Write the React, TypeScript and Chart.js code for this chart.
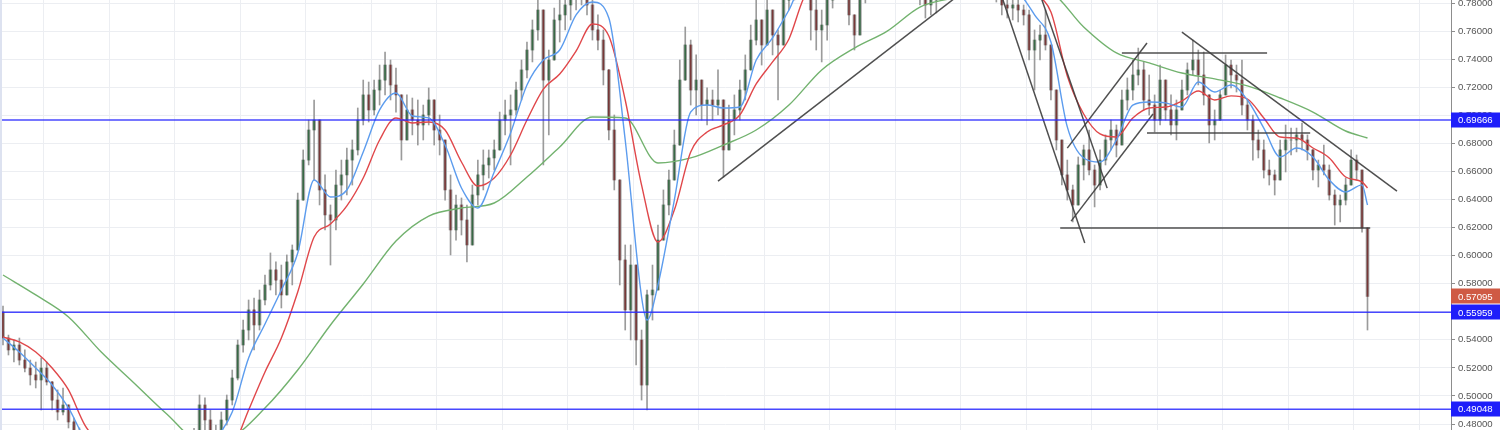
import React, { useEffect, useRef } from "react";
import { Chart, registerables } from "chart.js";

Chart.register(...registerables);

// ---------- data (bar index = trading period, price) ----------
const firstOpen = 0.5598;

const highs = [
  0.5641, 0.5434, 0.5399, 0.5413, 0.5328, 0.5256, 0.5242, 0.5271, 0.5242, 0.5078,
  0.5043, 0.5057, 0.4936, 0.4843, 0.4772, 0.4650, 0.4600, 0.4550, 0.4480, 0.4420,
  0.4390, 0.4350, 0.4320, 0.4330, 0.4350, 0.4370, 0.4400, 0.4460, 0.4500, 0.4550,
  0.4600, 0.4640, 0.4680, 0.4710, 0.4740, 0.4770, 0.5007, 0.4986, 0.4900, 0.4793,
  0.4886, 0.5007, 0.5185, 0.5399, 0.5541, 0.5684, 0.5698, 0.5755, 0.5862, 0.6019,
  0.5955, 0.5933, 0.6005, 0.6076, 0.6446, 0.6753, 0.6966, 0.7109, 0.6860, 0.6575,
  0.6361, 0.6610, 0.6681, 0.6767, 0.6824, 0.7052, 0.7251, 0.7237, 0.7251, 0.7358,
  0.7451, 0.7394, 0.7337, 0.7145, 0.7145, 0.7123, 0.7109, 0.7073, 0.7195, 0.7109,
  0.7002, 0.6824, 0.6575, 0.6432, 0.6411, 0.6361, 0.6503, 0.6681, 0.6753, 0.6753,
  0.6824, 0.7023, 0.7109, 0.7145, 0.7237, 0.7394, 0.7522, 0.7679, 0.7836, 0.7679,
  0.7465, 0.7764, 0.7821, 0.7857, 0.7928, 0.7964, 0.7999, 0.7892, 0.7857, 0.7715,
  0.7608, 0.7216, 0.7002, 0.6432, 0.6076, 0.6076, 0.5755, 0.5470, 0.5755, 0.5933,
  0.6218, 0.6468, 0.6610, 0.6895, 0.7394, 0.7629, 0.7536, 0.7430, 0.7216, 0.7195,
  0.7180, 0.7323, 0.7109, 0.7073, 0.7145, 0.7251, 0.7430, 0.7643, 0.7821, 0.7643,
  0.7857, 0.7715, 0.7608, 0.7892, 0.7999, 0.8071, 0.8106, 0.8071, 0.7999, 0.7857,
  0.7750, 0.7857, 0.8035, 0.8106, 0.8142, 0.8071, 0.7715, 0.7892, 0.7964, 0.8071,
  0.8142, 0.8178, 0.8213, 0.8249, 0.8178, 0.8142, 0.8106, 0.8071, 0.7999, 0.7928,
  0.7892, 0.7928, 0.7999, 0.8071, 0.8142, 0.8178, 0.8213, 0.8178, 0.8142, 0.8106,
  0.8071, 0.8035, 0.7999, 0.7892, 0.7857, 0.7878, 0.7857, 0.7786, 0.7750, 0.7608,
  0.7643, 0.7750, 0.7501, 0.7180, 0.6824, 0.6681, 0.6503, 0.6703, 0.6788, 0.6895,
  0.6646, 0.6753, 0.6860, 0.6966, 0.6931, 0.7180, 0.7266, 0.7394, 0.7479, 0.7380,
  0.7287, 0.7145, 0.7358, 0.7251, 0.7145, 0.7109, 0.7251, 0.7373, 0.7536, 0.7465,
  0.7451, 0.7145, 0.7038, 0.7180, 0.7430, 0.7394, 0.7358, 0.7394, 0.7109, 0.7002,
  0.6895, 0.6824, 0.6681, 0.6610, 0.6824, 0.6931, 0.6909, 0.6909, 0.6945, 0.6860,
  0.6753, 0.6681, 0.6788, 0.6646, 0.6468, 0.6432, 0.6553, 0.6753, 0.6717, 0.6575,
  0.6197,
];

const lows = [
  0.5363, 0.5292, 0.5242, 0.5221, 0.5171, 0.5078, 0.5057, 0.4900, 0.5078, 0.4900,
  0.4829, 0.4865, 0.4772, 0.4686, 0.4615, 0.4540, 0.4490, 0.4430, 0.4370, 0.4320,
  0.4290, 0.4250, 0.4210, 0.4230, 0.4250, 0.4270, 0.4300, 0.4350, 0.4390, 0.4440,
  0.4500, 0.4530, 0.4570, 0.4600, 0.4640, 0.4680, 0.4743, 0.4758, 0.4686, 0.4615,
  0.4651, 0.4793, 0.4936, 0.5114, 0.5313, 0.5399, 0.5328, 0.5470, 0.5648, 0.5755,
  0.5720, 0.5627, 0.5755, 0.5791, 0.6111, 0.6396, 0.6646, 0.6539, 0.6361, 0.6183,
  0.5933, 0.6183, 0.6396, 0.6432, 0.6503, 0.6717, 0.6931, 0.6952, 0.7002, 0.7073,
  0.7145, 0.7109, 0.7023, 0.6681, 0.6824, 0.6860, 0.6788, 0.6824, 0.6931, 0.6788,
  0.6717, 0.6396, 0.6005, 0.6111, 0.6147, 0.5955, 0.6111, 0.6361, 0.6468, 0.6553,
  0.6610, 0.6788, 0.6860, 0.6646, 0.7002, 0.7109, 0.7266, 0.7380, 0.7536, 0.6646,
  0.6860, 0.7430, 0.7522, 0.7608, 0.7679, 0.7750, 0.7786, 0.7715, 0.7536, 0.7465,
  0.7216, 0.6824, 0.6468, 0.5791, 0.5470, 0.5399, 0.5221, 0.4971, 0.4900, 0.5541,
  0.5755, 0.6111, 0.6290, 0.6539, 0.6824, 0.7251, 0.7073, 0.7002, 0.6966, 0.6931,
  0.6966, 0.7002, 0.6560, 0.6753, 0.6860, 0.6966, 0.7109, 0.7358, 0.7501, 0.7358,
  0.7536, 0.7430, 0.7109, 0.7536, 0.7750, 0.7821, 0.7857, 0.7857, 0.7536, 0.7465,
  0.7380, 0.7536, 0.7764, 0.7892, 0.7928, 0.7643, 0.7465, 0.7643, 0.7800, 0.7892,
  0.7928, 0.7964, 0.7999, 0.8035, 0.7964, 0.7928, 0.7892, 0.7857, 0.7786, 0.7693,
  0.7715, 0.7729, 0.7821, 0.7892, 0.7928, 0.7964, 0.7999, 0.7964, 0.7928, 0.7892,
  0.7857, 0.7836, 0.7807, 0.7715, 0.7693, 0.7679, 0.7665, 0.7643, 0.7394, 0.7180,
  0.7394, 0.7465, 0.7109, 0.6753, 0.6503, 0.6396, 0.6240, 0.6361, 0.6539, 0.6575,
  0.6347, 0.6468, 0.6646, 0.6753, 0.6703, 0.6788, 0.7038, 0.7109, 0.7216, 0.7038,
  0.7002, 0.6881, 0.6931, 0.6966, 0.6860, 0.6824, 0.7038, 0.7145, 0.7287, 0.7216,
  0.7073, 0.6803, 0.6824, 0.6966, 0.7216, 0.7195, 0.7166, 0.7002, 0.6895, 0.6681,
  0.6696, 0.6553, 0.6503, 0.6432, 0.6575, 0.6596, 0.6717, 0.6739, 0.6753, 0.6681,
  0.6539, 0.6489, 0.6575, 0.6396, 0.6218, 0.6240, 0.6361, 0.6503, 0.6539, 0.6168,
  0.5470,
];

const closes = [
  0.5413, 0.5328, 0.5363, 0.5256, 0.5199, 0.5150, 0.5114, 0.5199, 0.5100, 0.4971,
  0.4886, 0.4936, 0.4815, 0.4743, 0.4651, 0.4579, 0.4529, 0.4472, 0.4415, 0.4365,
  0.4330, 0.4294, 0.4258, 0.4273, 0.4294, 0.4316, 0.4344, 0.4401, 0.4437, 0.4487,
  0.4544, 0.4579, 0.4615, 0.4651, 0.4686, 0.4722, 0.4936, 0.4829, 0.4722, 0.4651,
  0.4829, 0.4971, 0.5128, 0.5363, 0.5470, 0.5613, 0.5506, 0.5684, 0.5791, 0.5898,
  0.5826, 0.5720, 0.5955, 0.6040, 0.6396, 0.6681, 0.6895, 0.6966, 0.6468, 0.6290,
  0.6254, 0.6503, 0.6575, 0.6681, 0.6753, 0.6966, 0.7145, 0.7038, 0.7180, 0.7251,
  0.7358, 0.7216, 0.7145, 0.6824, 0.7038, 0.6966, 0.6931, 0.7002, 0.7109, 0.6895,
  0.6824, 0.6468, 0.6183, 0.6361, 0.6254, 0.6076, 0.6432, 0.6575, 0.6646, 0.6696,
  0.6753, 0.6966, 0.7002, 0.7038, 0.7180, 0.7323, 0.7465, 0.7608, 0.7750, 0.7251,
  0.7394, 0.7679, 0.7715, 0.7786, 0.7857, 0.7892, 0.7878, 0.7786, 0.7608, 0.7536,
  0.7323, 0.6895, 0.6539, 0.5969, 0.5613, 0.5933, 0.5399, 0.5078, 0.5720, 0.5755,
  0.6111, 0.6361, 0.6539, 0.6788, 0.7251, 0.7501, 0.7180, 0.7251, 0.7073, 0.7109,
  0.7073, 0.7109, 0.6753, 0.6966, 0.7038, 0.7180, 0.7323, 0.7536, 0.7679, 0.7501,
  0.7750, 0.7572, 0.7501, 0.7821, 0.7928, 0.7964, 0.7999, 0.7964, 0.7750, 0.7608,
  0.7643, 0.7821, 0.7928, 0.8035, 0.8071, 0.7715, 0.7572, 0.7857, 0.7892, 0.7999,
  0.8035, 0.8106, 0.8142, 0.8106, 0.8035, 0.7999, 0.7964, 0.7928, 0.7857, 0.7786,
  0.7821, 0.7857, 0.7928, 0.7999, 0.8071, 0.8106, 0.8142, 0.8071, 0.8035, 0.7999,
  0.7964, 0.7928, 0.7892, 0.7786, 0.7764, 0.7786, 0.7750, 0.7715, 0.7465, 0.7536,
  0.7572, 0.7501, 0.7180, 0.6824, 0.6575, 0.6468, 0.6361, 0.6646, 0.6753, 0.6610,
  0.6503, 0.6681, 0.6824, 0.6895, 0.6788, 0.7109, 0.7180, 0.7287, 0.7323, 0.7109,
  0.7073, 0.6966, 0.7251, 0.7038, 0.6931, 0.7038, 0.7180, 0.7323, 0.7394, 0.7287,
  0.7145, 0.6931, 0.6966, 0.7145, 0.7358, 0.7287, 0.7251, 0.7073, 0.6966, 0.6824,
  0.6753, 0.6610, 0.6575, 0.6539, 0.6753, 0.6824, 0.6824, 0.6860, 0.6824, 0.6753,
  0.6610, 0.6646, 0.6610, 0.6432, 0.6361, 0.6396, 0.6503, 0.6681, 0.6610, 0.6197,
  0.57095,
];

// moving averages: [bar index, value]
const maFast = [
  [0, 0.5413], [3, 0.5313], [6, 0.5199], [9, 0.5078], [12, 0.4915], [15, 0.4700],
  [18, 0.4620], [21, 0.4550], [24, 0.4500], [27, 0.4480], [30, 0.4500], [33, 0.4560],
  [36, 0.4620], [39, 0.4700], [42, 0.4886], [45, 0.5271], [48, 0.5513], [51, 0.5755],
  [54, 0.6019], [57, 0.6539], [60, 0.6418], [63, 0.6468], [66, 0.6739], [69, 0.7038],
  [72, 0.7159], [75, 0.6995], [78, 0.6981], [81, 0.6788], [84, 0.6482], [87, 0.6339],
  [90, 0.6596], [93, 0.6874], [96, 0.7216], [99, 0.7394], [102, 0.7465], [105, 0.7715],
  [108, 0.7807], [111, 0.7693], [114, 0.6824], [117, 0.5705], [118, 0.5541], [120, 0.5791],
  [123, 0.6396], [126, 0.7023], [129, 0.7073], [132, 0.7052], [135, 0.7059], [138, 0.7394],
  [141, 0.7551], [144, 0.7750], [147, 0.7970], [150, 0.7900], [153, 0.7950], [156, 0.7950],
  [159, 0.8000], [162, 0.8050], [165, 0.8050], [168, 0.8000], [171, 0.7950], [174, 0.8000],
  [177, 0.8050], [180, 0.8000], [183, 0.7950], [186, 0.7880], [189, 0.7715], [192, 0.7522],
  [195, 0.6917], [198, 0.6696], [201, 0.6667], [204, 0.6824], [207, 0.7073], [210, 0.7095],
  [213, 0.7088], [216, 0.7059], [219, 0.7237], [222, 0.7166], [225, 0.7216], [228, 0.7109],
  [231, 0.6909], [234, 0.6703], [237, 0.6767], [240, 0.6703], [243, 0.6539], [246, 0.6454],
  [249, 0.6504], [250, 0.6361],
];

const maMid = [
  [0, 0.5420], [3, 0.5385], [6, 0.5313], [9, 0.5199], [12, 0.5043], [15, 0.4793],
  [18, 0.4650], [21, 0.4550], [24, 0.4480], [27, 0.4430], [30, 0.4400], [33, 0.4400],
  [36, 0.4430], [39, 0.4500], [42, 0.4620], [45, 0.4900], [48, 0.5171], [51, 0.5413],
  [54, 0.5741], [57, 0.6133], [60, 0.6225], [63, 0.6354], [66, 0.6553], [69, 0.6824],
  [72, 0.6981], [75, 0.6945], [78, 0.6952], [81, 0.6895], [84, 0.6667], [87, 0.6496],
  [90, 0.6553], [93, 0.6717], [96, 0.6966], [99, 0.7187], [102, 0.7294], [105, 0.7458],
  [108, 0.7650], [111, 0.7565], [114, 0.7109], [117, 0.6503], [120, 0.6097], [123, 0.6325],
  [126, 0.6738], [129, 0.6881], [132, 0.6931], [135, 0.7002], [138, 0.7223], [141, 0.7380],
  [144, 0.7544], [147, 0.7857], [150, 0.7920], [153, 0.7960], [156, 0.7980], [159, 0.8000],
  [162, 0.8020], [165, 0.8030], [168, 0.8030], [171, 0.8020], [174, 0.8020], [177, 0.8020],
  [180, 0.8000], [183, 0.7970], [186, 0.7920], [189, 0.7860], [192, 0.7736], [195, 0.7280],
  [198, 0.7009], [201, 0.6867], [204, 0.6845], [207, 0.6981], [210, 0.7052], [213, 0.7059],
  [216, 0.7102], [219, 0.7173], [222, 0.7109], [225, 0.7138], [228, 0.7116], [231, 0.6981],
  [234, 0.6845], [237, 0.6838], [240, 0.6767], [243, 0.6696], [246, 0.6560], [249, 0.6525],
  [250, 0.6482],
];

const maSlow = [
  [0, 0.5862], [6, 0.5720], [12, 0.5563], [18, 0.5313], [24, 0.5093], [30, 0.4872],
  [36, 0.4686], [42, 0.4715], [48, 0.4914], [54, 0.5185], [60, 0.5506], [66, 0.5798],
  [72, 0.6104], [78, 0.6282], [84, 0.6339], [90, 0.6375], [96, 0.6560], [102, 0.6774],
  [108, 0.6988], [114, 0.6981], [120, 0.6660], [126, 0.6696], [132, 0.6788], [138, 0.6895],
  [144, 0.7073], [150, 0.7323], [156, 0.7479], [162, 0.7600], [168, 0.7771], [174, 0.7836],
  [180, 0.7900], [186, 0.7920], [192, 0.7878], [198, 0.7629], [204, 0.7444], [210, 0.7373],
  [216, 0.7301], [222, 0.7259], [228, 0.7209], [234, 0.7123], [240, 0.7023], [246, 0.6888],
  [250, 0.6838],
];

const levels = [0.69666, 0.55959, 0.49048];
const lastPrice = 0.57095;

// drawn trend lines: [[startIndex, startPrice], [endIndex, endPrice]]
const trendLines = [
  [[131.0, 0.6531], [174.4, 0.7835]],
  [[181.5, 0.8019], [198.2, 0.609]],
  [[188.5, 0.803], [202.3, 0.6481]],
  [[195.7, 0.6246], [210.7, 0.7009]],
  [[195.0, 0.6766], [209.6, 0.7515]],
  [[205.0, 0.7443], [231.6, 0.7443]],
  [[209.6, 0.6873], [239.5, 0.6873]],
  [[193.7, 0.6197], [250.5, 0.6197]],
  [[216.0, 0.7593], [255.4, 0.646]],
];

const yTickValues = [
  0.48, 0.5, 0.52, 0.54, 0.56, 0.58, 0.6, 0.62, 0.64, 0.66, 0.68, 0.7, 0.72, 0.74, 0.76, 0.78,
];

// view window
const X_MIN = -0.55;
const X_MAX = 265.3;
const Y_MIN = 0.47576;
const Y_MAX = 0.78214;
const FONT = '"Liberation Sans", Arial, sans-serif';

export default function App() {
  const ref = useRef<HTMLCanvasElement | null>(null);

  useEffect(() => {
    document.body.style.margin = "0";
    const canvas = ref.current;
    if (!canvas) return;

    const opens = closes.map((_, i) => (i === 0 ? firstOpen : closes[i - 1]));
    const isUp = closes.map((c, i) => c >= opens[i]);
    const wickData = closes.map((c, i) => ({
      x: i,
      y: [Math.min(lows[i], opens[i], c), Math.max(highs[i], opens[i], c)],
    }));
    const bodyData = closes.map((c, i) => ({ x: i, y: [opens[i], c] }));
    const pts = (arr: number[][]) => arr.map(([x, y]) => ({ x, y }));
    const xGrid = Array.from({ length: 22 }, (_, k) => 7.5 + 12 * k);

    const lineBase = {
      type: "line",
      pointRadius: 0,
      fill: false,
      clip: 0,
      capBezierPoints: false,
    };

    const datasets: any[] = [
      {
        type: "bar",
        data: wickData,
        backgroundColor: "#9b9b9b",
        barThickness: 1,
        grouped: false,
        borderWidth: 0,
        clip: 0,
        order: 30,
      },
      {
        type: "bar",
        data: bodyData,
        backgroundColor: "rgba(150,150,150,0.85)",
        barThickness: 3,
        grouped: false,
        borderWidth: 0,
        clip: 0,
        order: 29,
      },
      {
        type: "bar",
        data: bodyData,
        backgroundColor: isUp.map((u) => (u ? "rgba(45,100,60,0.9)" : "rgba(115,45,45,0.9)")),
        barThickness: 1,
        grouped: false,
        borderWidth: 0,
        clip: 0,
        order: 28,
      },
      {
        ...lineBase,
        data: pts(maSlow),
        borderColor: "#72b26e",
        borderWidth: 1.4,
        cubicInterpolationMode: "monotone",
        order: 22,
      },
      {
        ...lineBase,
        data: pts(maMid),
        borderColor: "#e0474a",
        borderWidth: 1.4,
        cubicInterpolationMode: "monotone",
        order: 21,
      },
      {
        ...lineBase,
        data: pts(maFast),
        borderColor: "#5c9cee",
        borderWidth: 1.4,
        cubicInterpolationMode: "monotone",
        order: 20,
      },
      ...trendLines.map((seg) => ({
        ...lineBase,
        data: pts(seg),
        borderColor: "rgba(60,60,60,0.9)",
        borderWidth: 1.5,
        tension: 0,
        order: 10,
      })),
      ...levels.map((v) => ({
        ...lineBase,
        data: [
          { x: X_MIN, y: v },
          { x: X_MAX, y: v },
        ],
        borderColor: "rgba(40,40,255,0.85)",
        borderWidth: 1.5,
        tension: 0,
        order: 5,
      })),
    ];

    const overlay = {
      id: "overlay",
      beforeDraw(chart: any) {
        const c = chart.ctx;
        c.save();
        c.fillStyle = "#ffffff";
        c.fillRect(0, 0, chart.width, chart.height);
        c.restore();
      },
      afterDraw(chart: any) {
        const c = chart.ctx;
        const area = chart.chartArea;
        const y = chart.scales.y;
        c.save();
        c.fillStyle = "#dde2f0";
        c.fillRect(0, 0, 2, chart.height);
        const boxes = [
          ...levels.map((v) => ({ v, color: "#1e1efa" })),
          { v: lastPrice, color: "#cf5a44" },
        ];
        c.font = `9.6px ${FONT}`;
        c.textBaseline = "middle";
        c.textAlign = "left";
        for (const b of boxes) {
          const py = y.getPixelForValue(b.v);
          c.fillStyle = b.color;
          c.fillRect(area.right, Math.round(py) - 7.5, chart.width - area.right, 15);
          c.fillStyle = "#ffffff";
          c.fillText(b.v.toFixed(5), area.right + 7, py + 0.5);
        }
        c.restore();
      },
    };

    const chart = new Chart(canvas, {
      type: "bar",
      data: { datasets },
      plugins: [overlay],
      options: {
        responsive: false,
        animation: false,
        devicePixelRatio: 1,
        events: [],
        layout: { padding: 0, autoPadding: false },
        plugins: {
          legend: { display: false },
          tooltip: { enabled: false },
          title: { display: false },
        },
        scales: {
          x: {
            type: "linear",
            min: X_MIN,
            max: X_MAX,
            offset: false,
            grid: { offset: false, color: "#eceef2", drawTicks: false, lineWidth: 1 },
            border: { display: false },
            ticks: { display: false },
            afterBuildTicks: (s: any) => {
              s.ticks = xGrid.map((v) => ({ value: v }));
            },
            afterFit: (s: any) => {
              s.height = 0;
            },
          },
          y: {
            type: "linear",
            position: "right",
            min: Y_MIN,
            max: Y_MAX,
            grid: { color: "#eceef2", tickColor: "#8d8d8d", tickLength: 4, drawTicks: true },
            border: { display: true, color: "#8d8d8d" },
            ticks: {
              color: "#555555",
              font: { family: FONT, size: 9.6 },
              padding: 3,
              autoSkip: false,
              callback: (v: any) => Number(v).toFixed(5),
            },
            afterBuildTicks: (s: any) => {
              s.ticks = yTickValues.map((v) => ({ value: v }));
            },
            afterFit: (s: any) => {
              s.width = 49;
              s.paddingTop = 0;
              s.paddingBottom = 0;
            },
          },
        },
      } as any,
    } as any);

    return () => chart.destroy();
  }, []);

  return (
    <div style={{ width: 1500, height: 430 }}>
      <canvas ref={ref} width={1500} height={430} style={{ display: "block" }} />
    </div>
  );
}
